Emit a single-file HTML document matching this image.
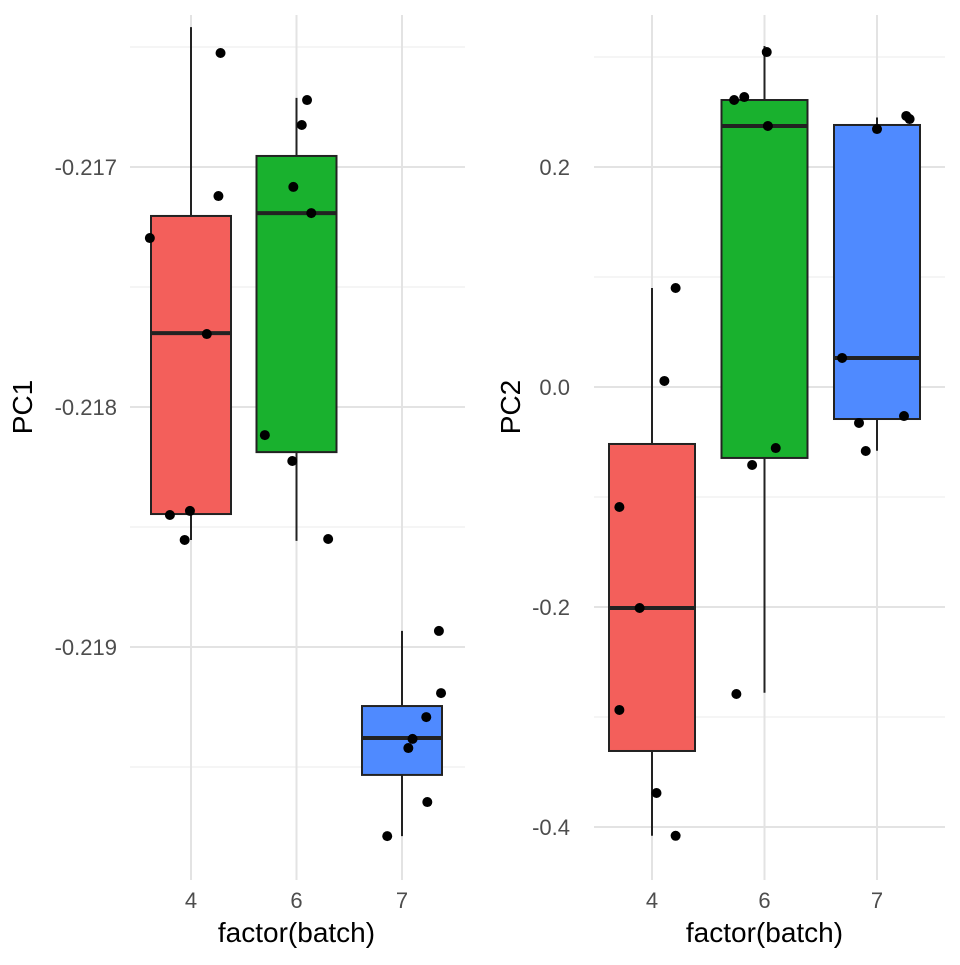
<!DOCTYPE html>
<html><head><meta charset="utf-8"><style>
body{margin:0;background:#fff;}
svg text{font-family:"Liberation Sans",sans-serif;}
</style></head><body>
<svg id="chart" width="960" height="960"></svg>
<script>
const categories = ["4","6","7"];
const fillColors = ["#F35F5B","#19B12E","#4F8AFF"];
// PC1 box stats: [lowerWhisker, q1, median, q3, upperWhisker]
const pc1Stats = [
  [-0.218554,-0.218446,-0.217692,-0.217204,-0.216417],
  [-0.218558,-0.218188,-0.217192,-0.216954,-0.216712],
  [-0.219788,-0.219533,-0.219379,-0.219246,-0.218933]
];
const pc1PointCat = [0,0,0,0,0,0,0,1,1,1,1,1,1,1,2,2,2,2,2,2,2];
const pc1PointJitter = [0.28,0.26,-0.39,0.15,-0.2,-0.01,-0.06,0.1,0.05,-0.03,0.14,-0.3,-0.04,0.3,0.35,0.37,0.23,0.1,0.06,0.24,-0.14];
const pc1PointVal = [-0.216525,-0.217121,-0.217296,-0.217696,-0.218450,-0.218433,-0.218554,-0.216721,-0.216825,-0.217083,-0.217192,-0.218117,-0.218225,-0.218550,-0.218933,-0.219192,-0.219292,-0.219383,-0.219421,-0.219646,-0.219788];
const pc1Ticks = [-0.217,-0.218,-0.219];
const pc1TickLabels = ["-0.217","-0.218","-0.219"];
const pc1Minor = [-0.2165,-0.2175,-0.2185,-0.2195];
// PC2
const pc2Stats = [
  [-0.408,-0.3309,-0.2009,-0.0518,0.09],
  [-0.278,-0.0645,0.2373,0.2609,0.31],
  [-0.058,-0.0291,0.0264,0.2382,0.245]
];
const pc2PointCat = [0,0,0,0,0,0,0,1,1,1,1,1,1,1,2,2,2,2,2,2,2];
const pc2PointJitter = [0.21,0.11,-0.29,-0.11,-0.29,0.04,0.21,0.02,-0.27,-0.18,0.03,0.1,-0.11,-0.25,0.26,0.29,0,-0.31,-0.16,0.24,-0.1];
const pc2PointVal = [0.09,0.0055,-0.1091,-0.2009,-0.2936,-0.3691,-0.408,0.3045,0.2609,0.2636,0.2373,-0.0555,-0.0709,-0.2791,0.2464,0.2436,0.2345,0.0264,-0.0327,-0.0264,-0.0582];
const pc2Ticks = [0.2,0.0,-0.2,-0.4];
const pc2TickLabels = ["0.2","0.0","-0.2","-0.4"];
const pc2Minor = [0.3,0.1,-0.1,-0.3];

const NS="http://www.w3.org/2000/svg";
const svg=document.getElementById('chart');
function mk(tag,attrs,parent){const e=document.createElementNS(NS,tag);for(const k in attrs)e.setAttribute(k,attrs[k]);(parent||svg).appendChild(e);return e;}

function panel(cfg){
  const g=mk('g',{});
  
  
  const y=v=>cfg.y0+(v-cfg.v0)*cfg.k;
  const x=i=>cfg.x0+i*cfg.dx;
  cfg.minor.forEach(v=>{const l=mk('line',{x1:cfg.left,x2:cfg.right,y1:y(v),y2:y(v),stroke:'#ebebeb','stroke-width':1},g);
    });
  cfg.ticks.forEach((v,i)=>{const l=mk('line',{x1:cfg.left,x2:cfg.right,y1:y(v),y2:y(v),stroke:'#e3e3e3','stroke-width':2},g);
    
    const t=mk('text',{x:cfg.tickX,y:y(v)+8,'text-anchor':'end','font-size':22,fill:'#4d4d4d'},g);t.textContent=cfg.tickLabels[i];
    });
  categories.forEach((c,i)=>{const l=mk('line',{x1:x(i),x2:x(i),y1:cfg.top,y2:cfg.bottom,stroke:'#e3e3e3','stroke-width':2},g);
    
    const t=mk('text',{x:x(i),y:908,'text-anchor':'middle','font-size':22,fill:'#4d4d4d'},g);t.textContent=c;
    });
  cfg.stats.forEach((s,i)=>{const cx=x(i),hw=cfg.hw;
    const w=mk('line',{x1:cx,x2:cx,y1:y(s[0]),y2:y(s[4]),stroke:'#222','stroke-width':2},g);
    
    const r=mk('rect',{x:cx-hw,y:y(s[3]),width:2*hw,height:y(s[1])-y(s[3]),fill:fillColors[i],stroke:'#222','stroke-width':2},g);
    
    const m=mk('line',{x1:cx-hw,x2:cx+hw,y1:y(s[2]),y2:y(s[2]),stroke:'#222','stroke-width':4},g);
    });
  cfg.pv.forEach((v,j)=>{const p=mk('circle',{cx:x(cfg.pc[j]+cfg.pj[j]),cy:y(v),r:5,fill:'#000'},g);
    });
  const yt=mk('text',{x:0,y:0,transform:`translate(${cfg.titleX},407) rotate(-90)`,'text-anchor':'middle','font-size':28,fill:'#000'},g);
  yt.textContent=cfg.name;
  const xt=mk('text',{x:x(1),y:942,'text-anchor':'middle','font-size':28,fill:'#000'},g);
  xt.textContent='factor(batch)';
}
panel({name:'PC1',y0:167,v0:-0.217,k:-240000,x0:191,dx:105.5,hw:40,left:130,right:465,top:15,bottom:880,tickX:117,titleX:32,
  stats:pc1Stats,pc:pc1PointCat,pj:pc1PointJitter,pv:pc1PointVal,ticks:pc1Ticks,tickLabels:pc1TickLabels,minor:pc1Minor});
panel({name:'PC2',y0:387,v0:0,k:-1100,x0:652,dx:112.5,hw:43,left:594,right:945,top:15,bottom:880,tickX:570,titleX:520,
  stats:pc2Stats,pc:pc2PointCat,pj:pc2PointJitter,pv:pc2PointVal,ticks:pc2Ticks,tickLabels:pc2TickLabels,minor:pc2Minor});
</script>
</body></html>
